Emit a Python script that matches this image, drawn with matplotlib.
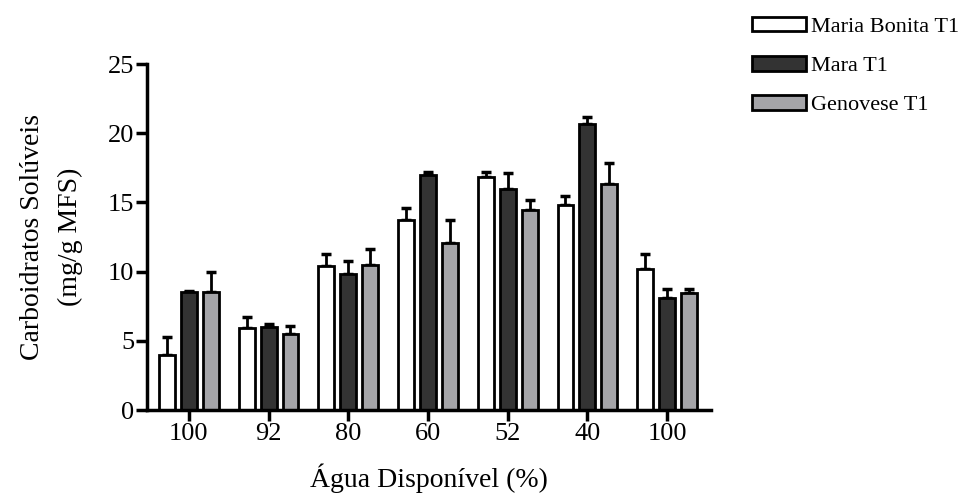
import matplotlib.pyplot as plt
import numpy as np

plt.rcParams['font.family'] = ['Liberation Serif', 'DejaVu Serif']

groups = ['100', '92', '80', '60', '52', '40', '100']
series = ['Maria Bonita T1', 'Mara T1', 'Genovese T1']
maria_bonita = [4.0, 5.9, 10.4, 13.7, 16.8, 14.8, 10.2]
maria_bonita_err = [1.25, 0.8, 0.9, 0.9, 0.4, 0.65, 1.05]
mara = [8.5, 6.0, 9.8, 17.0, 16.0, 20.65, 8.1]
mara_err = [0.1, 0.25, 1.0, 0.2, 1.15, 0.55, 0.65]
genovese = [8.55, 5.5, 10.45, 12.1, 14.45, 16.3, 8.45]
genovese_err = [1.4, 0.6, 1.15, 1.65, 0.7, 1.55, 0.3]

colors = ['white', '#333333', '#a4a4a8']
values = [maria_bonita, mara, genovese]
errors = [maria_bonita_err, mara_err, genovese_err]

fig = plt.figure(figsize=(9.64, 4.95), dpi=100)
ax = fig.add_axes([0.1525, 0.1717, 0.585, 0.699])

x = np.arange(len(groups))
w = 0.2
offs = [-0.275, 0, 0.275]
for vals, errs, c, o, name in zip(values, errors, colors, offs, series):
    ax.bar(x + o, vals, w, color=c, edgecolor='black', linewidth=2, label=name, zorder=2)
    ax.errorbar(x + o, vals, yerr=[np.zeros(len(vals)), errs], fmt='none',
                ecolor='black', elinewidth=2, capsize=3.5, capthick=2.5, zorder=1)

ax.set_xlim(-0.525, 6.55)
ax.set_ylim(0, 25)
ax.set_yticks([0, 5, 10, 15, 20, 25])
ax.set_xticks(x)
ax.set_xticklabels(groups)
for s in ['top', 'right']:
    ax.spines[s].set_visible(False)
for s in ['left', 'bottom']:
    ax.spines[s].set_linewidth(2.5)
ax.tick_params(axis='both', length=8, width=2.5, labelsize=19, direction='out', pad=1)

ax.set_xlabel('Água Disponível (%)', fontsize=20, labelpad=14)
ax.set_ylabel('Carboidratos Solúveis\n(mg/g MFS)', fontsize=20, labelpad=18, linespacing=1.7)

fig.legend(loc='upper left', bbox_to_anchor=(752 / 964, 1 - 17 / 495), frameon=False, fontsize=16,
           borderaxespad=0, borderpad=0,
           handlelength=2.45, handleheight=0.62, labelspacing=0.86, handletextpad=0.2)

fig.savefig('out.png', dpi=100)
